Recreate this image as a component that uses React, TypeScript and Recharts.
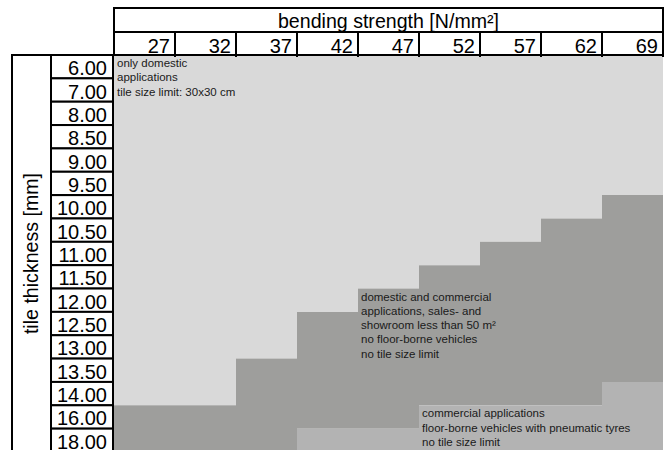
import React from 'react'
import { BarChart, Bar, XAxis, YAxis, LabelList } from 'recharts'

const strengths = [27, 32, 37, 42, 47, 52, 57, 62, 69]
const thicknesses = [
  '6.00', '7.00', '8.00', '8.50', '9.00', '9.50', '10.00', '10.50', '11.00',
  '11.50', '12.00', '12.50', '13.00', '13.50', '14.00', '16.00', '18.00',
]
// thickness from which domestic + commercial use is allowed, per strength
const commercialFrom = ['16.00', '16.00', '13.50', '12.50', '12.00', '11.50', '11.00', '10.50', '10.00']
// thickness from which floor-borne vehicles are allowed (null = not in table)
const vehiclesFrom = [null, null, null, '18.00', '18.00', '16.00', '16.00', '16.00', '14.00']

// which column each zone's note sits in
const noteDomestic = { strength: 27, lines: ['only domestic', 'applications', 'tile size limit: 30x30 cm'] }
const noteCommercial = {
  strength: 47,
  lines: [
    'domestic and commercial',
    'applications, sales- and',
    'showroom less than 50 m²',
    'no floor-borne vehicles',
    'no tile size limit',
  ],
}
const noteVehicles = {
  strength: 52,
  lines: ['commercial applications', 'floor-borne vehicles with pneumatic tyres', 'no tile size limit'],
}

const rowIdx = (t: string | null) => (t === null ? thicknesses.length : thicknesses.indexOf(t))

const data = strengths.map((s, i) => {
  const c = rowIdx(commercialFrom[i])
  const v = rowIdx(vehiclesFrom[i])
  return { strength: s, domestic: c, commercial: v - c, vehicles: thicknesses.length - v }
})

const FONT = '"Liberation Sans", Arial, sans-serif'
const COL_W = 61
const ROW_H = 397 / 17

const XTick = (props: any) => {
  const { x, payload } = props
  const right = x + COL_W / 2
  return (
    <g>
      <line x1={right} x2={right} y1={32} y2={57} stroke="#000" strokeWidth={2} />
      <text x={right - 5} y={53} textAnchor="end" fontSize={20} fontFamily={FONT} fill="#000">
        {payload.value}
      </text>
    </g>
  )
}

const YTick = (props: any) => {
  const { y, payload } = props
  return (
    <g>
      <rect x={51} y={y - ROW_H / 2} width={62} height={ROW_H} fill="#fff" stroke="#000" strokeWidth={2} />
      <text x={107} y={y + 8.5} textAnchor="end" fontSize={20} fontFamily={FONT} fill="#000">
        {thicknesses[Math.floor(payload.value)]}
      </text>
    </g>
  )
}

const headerLabel = (props: any) => {
  const { x, y, width } = props.viewBox
  return (
    <g>
      <rect x={x} y={y} width={width} height={47} fill="#fff" stroke="#000" strokeWidth={2} />
      <line x1={x} x2={x + width} y1={y + 24} y2={y + 24} stroke="#000" strokeWidth={2} />
      <text x={x + width / 2} y={y + 20} textAnchor="middle" fontSize={19.6} fontFamily={FONT} fill="#000">
        bending strength [N/mm²]
      </text>
    </g>
  )
}

const sideLabel = (props: any) => {
  const { y, height } = props.viewBox
  return (
    <g>
      <line x1={12} x2={12} y1={y - 1} y2={y + height + 2} stroke="#000" strokeWidth={2} />
      <line x1={11} x2={52} y1={y} y2={y} stroke="#000" strokeWidth={2} />
      <text
        x={31}
        y={y + height / 2}
        transform={`rotate(-90 31 ${y + height / 2})`}
        textAnchor="middle"
        dy={7}
        fontSize={19.6}
        fontFamily={FONT}
        fill="#000"
      >
        tile thickness [mm]
      </text>
    </g>
  )
}

// label content: draws the note only in the bar whose value is the note's strength
const noteLabel = (note: { strength: number; lines: string[] }) => (props: any) => {
  const { x, y, height, value } = props
  if (value !== note.strength) return null
  const top = Math.min(y, y + height)
  return (
    <g>
      {note.lines.map((l, i) => (
        <text key={i} x={x + 3} y={top + 12 + i * 14.3} fontSize={11.5} fontFamily={FONT} fill="#1a1a1a">
          {l}
        </text>
      ))}
    </g>
  )
}

const byStrength = (d: any) => d.strength

export default function App() {
  return (
    <div style={{ position: 'absolute', left: 0, top: 0, width: 666, height: 450, overflow: 'hidden', background: '#fff' }}>
      <BarChart
        width={666}
        height={452}
        data={data}
        margin={{ top: 8, right: 3, bottom: 0, left: 12 }}
        barCategoryGap={0}
        barGap={0}
      >
        <XAxis
          dataKey="strength"
          orientation="top"
          height={47}
          axisLine={false}
          tickLine={false}
          tick={<XTick />}
          interval={0}
          label={headerLabel}
        />
        <YAxis
          type="number"
          domain={[0, thicknesses.length]}
          reversed
          width={102}
          ticks={thicknesses.map((_, i) => i + 0.5)}
          interval={0}
          axisLine={false}
          tickLine={false}
          tick={<YTick />}
          label={sideLabel}
        />
        <Bar dataKey="domestic" stackId="a" fill="#d9d9d9" isAnimationActive={false}>
          <LabelList dataKey={byStrength} content={noteLabel(noteDomestic)} />
        </Bar>
        <Bar dataKey="commercial" stackId="a" fill="#9e9e9c" isAnimationActive={false}>
          <LabelList dataKey={byStrength} content={noteLabel(noteCommercial)} />
        </Bar>
        <Bar dataKey="vehicles" stackId="a" fill="#b3b3b3" isAnimationActive={false}>
          <LabelList dataKey={byStrength} content={noteLabel(noteVehicles)} />
        </Bar>
      </BarChart>
    </div>
  )
}
